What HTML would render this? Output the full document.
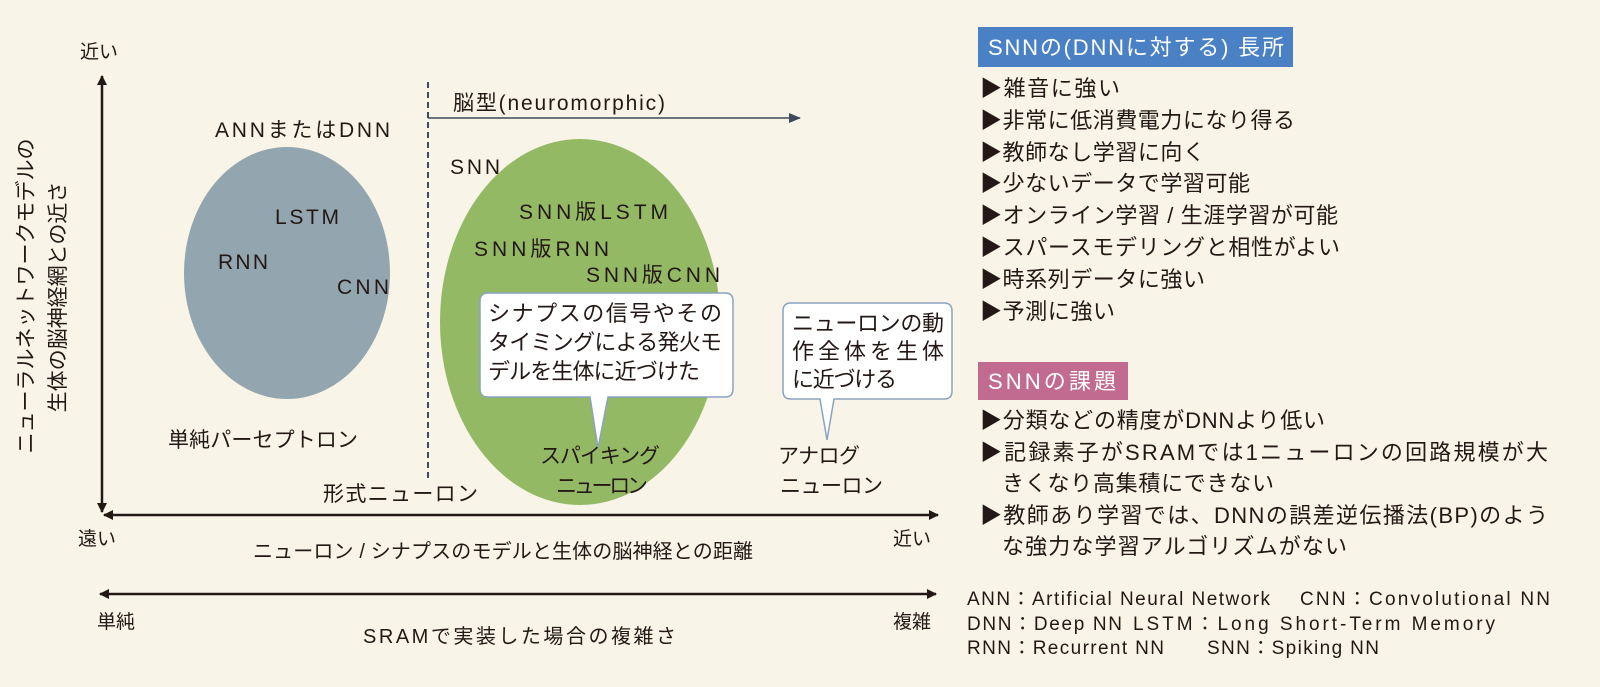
<!DOCTYPE html>
<html><head><meta charset="utf-8"><style>
html,body{margin:0;padding:0;background:#f8f4e7;}
svg{display:block;}
text{font-family:"Liberation Sans","Noto Sans CJK JP",sans-serif;fill:#231815;}
</style></head><body>
<svg width="1600" height="687" viewBox="0 0 1600 687" xmlns="http://www.w3.org/2000/svg">
<defs>
<marker id="ah" markerWidth="10" markerHeight="10" refX="9" refY="5" orient="auto-start-reverse" markerUnits="userSpaceOnUse">
<path d="M0,0 L10,5 L0,10 Z" fill="#231815"/></marker>
<marker id="ah2" markerWidth="12" markerHeight="10" refX="11" refY="5" orient="auto" markerUnits="userSpaceOnUse">
<path d="M0,0 L12,5 L0,10 Z" fill="#3c4a5a"/></marker>
</defs>
<rect width="1600" height="687" fill="#f8f4e7"/>
<line x1="102" y1="512" x2="102" y2="76" stroke="#231815" stroke-width="2.5" marker-start="url(#ah)" marker-end="url(#ah)"/>
<line x1="104" y1="515" x2="938" y2="515" stroke="#231815" stroke-width="2.5" marker-start="url(#ah)" marker-end="url(#ah)"/>
<line x1="100" y1="594" x2="936" y2="594" stroke="#231815" stroke-width="2.5" marker-start="url(#ah)" marker-end="url(#ah)"/>
<text x="80" y="58" font-size="19">近い</text>
<text x="78" y="545" font-size="19">遠い</text>
<text x="893" y="545" font-size="19">近い</text>
<text x="97" y="628" font-size="19">単純</text>
<text x="893" y="628" font-size="19">複雑</text>
<text x="253" y="558" font-size="20" textLength="500" lengthAdjust="spacing">ニューロン / シナプスのモデルと生体の脳神経との距離</text>
<text x="363" y="643" font-size="20" textLength="313" lengthAdjust="spacing">SRAMで実装した場合の複雑さ</text>
<text transform="translate(33,296) rotate(-90)" font-size="21" text-anchor="middle">ニューラルネットワークモデルの</text>
<text transform="translate(65,297) rotate(-90)" font-size="21" text-anchor="middle">生体の脳神経網との近さ</text>
<line x1="428" y1="82" x2="428" y2="480" stroke="#3c4a5a" stroke-width="2" stroke-dasharray="6,4"/>
<line x1="428" y1="118" x2="800" y2="118" stroke="#3c4a5a" stroke-width="1.5" marker-end="url(#ah2)"/>
<text x="453" y="110" font-size="21" textLength="212" lengthAdjust="spacing">脳型(neuromorphic)</text>
<text x="215" y="137" font-size="21" textLength="175" lengthAdjust="spacing">ANNまたはDNN</text>
<ellipse cx="287" cy="273" rx="103" ry="126" fill="#93a5ae"/>
<text x="275" y="224" font-size="21" textLength="64" lengthAdjust="spacing">LSTM</text>
<text x="218" y="269" font-size="21" textLength="50" lengthAdjust="spacing">RNN</text>
<text x="337" y="294" font-size="21" textLength="52" lengthAdjust="spacing">CNN</text>
<text x="168" y="447" font-size="21" textLength="190" lengthAdjust="spacing">単純パーセプトロン</text>
<text x="323" y="501" font-size="21" textLength="155" lengthAdjust="spacing">形式ニューロン</text>
<text x="450" y="174" font-size="21" textLength="50" lengthAdjust="spacing">SNN</text>
<ellipse cx="580" cy="322" rx="140" ry="183" fill="#94b964"/>
<text x="519" y="219" font-size="21" textLength="149" lengthAdjust="spacing">SNN版LSTM</text>
<text x="474" y="256" font-size="21" textLength="135" lengthAdjust="spacing">SNN版RNN</text>
<text x="586" y="282" font-size="21" textLength="134" lengthAdjust="spacing">SNN版CNN</text>
<path d="M488,293 H725 Q733,293 733,301 V389 Q733,397 725,397 H608 L598,448 L590,397 H488 Q480,397 480,389 V301 Q480,293 488,293 Z" fill="#fff" stroke="#8aa3bf" stroke-width="1.5"/>
<text x="488" y="321" font-size="22" textLength="234" lengthAdjust="spacing">シナプスの信号やその</text>
<text x="488" y="350" font-size="22" textLength="234" lengthAdjust="spacing">タイミングによる発火モ</text>
<text x="488" y="379" font-size="22" textLength="212" lengthAdjust="spacing">デルを生体に近づけた</text>
<text x="540" y="463" font-size="21" textLength="120" lengthAdjust="spacing">スパイキング</text>
<text x="556" y="493" font-size="21" textLength="92" lengthAdjust="spacing">ニューロン</text>
<path d="M791,303 H944 Q952,303 952,311 V391 Q952,399 944,399 H834 L827,440 L820,399 H791 Q783,399 783,391 V311 Q783,303 791,303 Z" fill="#fff" stroke="#8aa3bf" stroke-width="1.5"/>
<text x="792" y="331" font-size="22" textLength="152" lengthAdjust="spacing">ニューロンの動</text>
<text x="792" y="359" font-size="22" textLength="152" lengthAdjust="spacing">作全体を生体</text>
<text x="792" y="387" font-size="22" textLength="105" lengthAdjust="spacing">に近づける</text>
<text x="778" y="463" font-size="21" textLength="82" lengthAdjust="spacing">アナログ</text>
<text x="780" y="493" font-size="21" textLength="103" lengthAdjust="spacing">ニューロン</text>
<rect x="978" y="27" width="315" height="40" fill="#4a80c4"/>
<text x="988" y="55" font-size="22" textLength="296" lengthAdjust="spacing" style="fill:#fff">SNNの(DNNに対する) 長所</text>
<g font-size="22">
<text x="980" y="96" textLength="140" lengthAdjust="spacing">▶雑音に強い</text>
<text x="980" y="128" textLength="315" lengthAdjust="spacing">▶非常に低消費電力になり得る</text>
<text x="980" y="160" textLength="225" lengthAdjust="spacing">▶教師なし学習に向く</text>
<text x="980" y="191" textLength="270" lengthAdjust="spacing">▶少ないデータで学習可能</text>
<text x="980" y="223" textLength="358" lengthAdjust="spacing">▶オンライン学習 / 生涯学習が可能</text>
<text x="980" y="255" textLength="360" lengthAdjust="spacing">▶スパースモデリングと相性がよい</text>
<text x="980" y="287" textLength="225" lengthAdjust="spacing">▶時系列データに強い</text>
<text x="980" y="319" textLength="135" lengthAdjust="spacing">▶予測に強い</text>
</g>
<rect x="978" y="362" width="150" height="38" fill="#c26b90"/>
<text x="988" y="389" font-size="22" textLength="128" lengthAdjust="spacing" style="fill:#fff">SNNの課題</text>
<g font-size="22">
<text x="980" y="428" textLength="345" lengthAdjust="spacing">▶分類などの精度がDNNより低い</text>
<text x="980" y="460" textLength="568" lengthAdjust="spacing">▶記録素子がSRAMでは1ニューロンの回路規模が大</text>
<text x="1002" y="491" textLength="272" lengthAdjust="spacing">きくなり高集積にできない</text>
<text x="980" y="523" textLength="568" lengthAdjust="spacing">▶教師あり学習では、DNNの誤差逆伝播法(BP)のよう</text>
<text x="1002" y="554" textLength="345" lengthAdjust="spacing">な強力な学習アルゴリズムがない</text>
</g>
<g font-size="19">
<text x="967" y="605" textLength="303" lengthAdjust="spacing">ANN：Artificial Neural Network</text>
<text x="1300" y="605" textLength="250" lengthAdjust="spacing">CNN：Convolutional NN</text>
<text x="967" y="630" textLength="155" lengthAdjust="spacing">DNN：Deep NN</text>
<text x="1133" y="630" textLength="362" lengthAdjust="spacing">LSTM：Long  Short-Term Memory</text>
<text x="967" y="654" textLength="197" lengthAdjust="spacing">RNN：Recurrent NN</text>
<text x="1207" y="654" textLength="172" lengthAdjust="spacing">SNN：Spiking NN</text>
</g>
</svg>
</body></html>
